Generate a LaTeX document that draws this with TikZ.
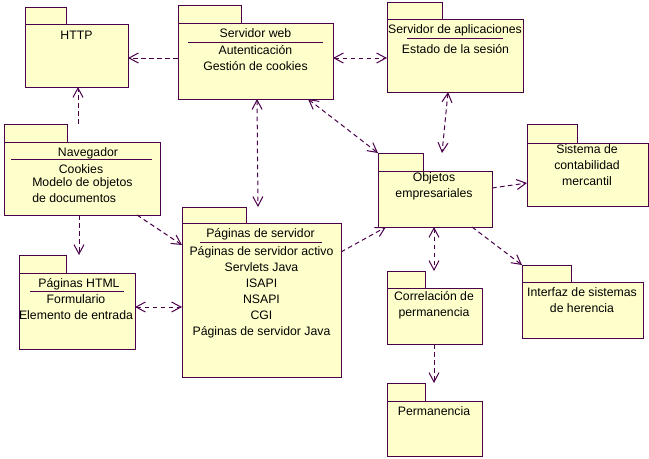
\documentclass[tikz,border=0pt]{standalone}
\usepackage{fontspec}
\setmainfont{Liberation Sans}
\usetikzlibrary{arrows.meta}
\definecolor{pkline}{RGB}{75,0,75}
\definecolor{pkfill}{RGB}{255,255,204}
\newcommand\pkgbox[7]{% name, x1, tabtop, tabright, bodytop, x2, y2
  \node[body,minimum width={(#6-#2)*0.75pt},minimum height={(#7-#5)*0.75pt}] (#1) at (#2,#5) {};
  \node[body,minimum width={(#4-#2)*0.75pt},minimum height={(#5-#3)*0.75pt}] (#1tab) at (#2,#3) {};
}
\begin{document}
\begin{tikzpicture}[x=0.75pt,y=-0.75pt,
  body/.style={draw=pkline,fill=pkfill,line width=0.75pt,inner sep=0pt,outer sep=0pt,anchor=north west},
  txt/.style={inner sep=0pt,anchor=north,align=center,font=\fontsize{9.2}{12}\selectfont,execute at begin node=\strut},
  txtl/.style={txt,anchor=north west,align=left},
  uline/.style={draw=pkline,line width=0.75pt},
  tip/.tip={Straight Barb[length=7pt,width=7.5pt,line width=0.75pt]},
  dep/.style={draw=pkline,line width=0.75pt,dash pattern=on 3.5pt off 2.5pt,-tip},
  bidep/.style={dep,tip-tip}]
\fill[white] (0,0) rectangle (649,458);
\useasboundingbox (0,0) rectangle (649,458);

% packages
\pkgbox{http}{25}{7}{66}{24}{128}{87}
\pkgbox{web}{178}{5}{241}{23}{333}{99}
\pkgbox{app}{387}{2}{442}{19}{523}{92}
\pkgbox{nav}{4}{124}{67}{142}{160}{215}
\pkgbox{html}{19}{255}{66}{273}{135}{349}
\pkgbox{pag}{182}{207}{246}{223}{341}{377}
\pkgbox{obj}{378}{153}{423}{171}{492}{227}
\pkgbox{sis}{527}{124}{577}{143}{648}{206}
\pkgbox{corr}{387}{271}{425}{288}{482}{344}
\pkgbox{int}{522}{265}{571}{282}{643}{338}
\pkgbox{perm}{387}{383}{425}{401}{482}{456}

% texts
\node[txt] (httpt) at (76.5,27.8) {HTTP};
\node[txt] (webt) at (255.5,25.8) {Servidor web};
\draw[uline] (188,42) -- (323,42);
\node[txt] (webc) at (255.5,44.8) {Autenticación\\Gestión de cookies};
\node[txt] (appt) at (455,21.8) {Servidor de aplicaciones};
\draw[uline] (407,38) -- (503,38);
\node[txt] (appc) at (455.5,41.8) {Estado de la sesión};
\node[txt] (navt) at (88,144.8) {Navegador};
\draw[uline] (11,159) -- (152,159);
\node[txt] (navc) at (81,161.8) {Cookies};
\node[txtl] (navd) at (32,177.8) {Modelo de objetos\\de documentos};
\node[txt] (htmlt) at (79,275.8) {Páginas HTML};
\draw[uline] (30,291) -- (124,291);
\node[txt] (htmlc) at (76,294.8) {Formulario\\Elemento de entrada};
\node[txt] (pagt) at (260.5,225.8) {Páginas de servidor};
\draw[uline] (200,242) -- (322,242);
\node[txt] (pagc) at (261.5,245.8) {Páginas de servidor activo\\Servlets Java\\ISAPI\\NSAPI\\CGI\\Páginas de servidor Java};
\node[txt] (objt) at (434,172.8) {Objetos\\empresariales};
\node[txt] (sist) at (587,144.8) {Sistema de\\contabilidad\\mercantil};
\node[txt] (corrt) at (434,290.8) {Correlación de\\permanencia};
\node[txt] (intt) at (582,287.8) {Interfaz de sistemas\\de herencia};
\node[txt] (permt) at (434,403.8) {Permanencia};

% connectors
\draw[dep] (web.west |- 0,58) -- (http.east |- 0,58);
\draw[bidep] (web.east |- 0,58) -- (app.west |- 0,58);
\draw[dep] (navtab.north -| 78,0) -- (http.south -| 78,0);
\draw[bidep] (web.south -| 257,0) -- (pagtab.north -| 258,0);
\draw[bidep] (web.south -| 308,0) -- (objtab.north west);
\draw[bidep] (app.south -| 448,0) -- (objtab.north -| 442,0);
\draw[dep] (nav.south -| 137,0) -- (pag.west |- 0,245);
\draw[dep] (nav.south -| 79,0) -- (htmltab.north -| 79,0);
\draw[bidep] (html.east |- 0,307) -- (pag.west |- 0,307);
\draw[dep] (pag.east |- 0,252) -- (obj.south -| 386,0);
\draw[dep] (obj.east |- 0,188) -- (sis.west |- 0,183);
\draw[bidep] (obj.south -| 434,0) -- (corrtab.north -| 434,0);
\draw[dep] (obj.south -| 472,0) -- (inttab.north west);
\draw[dep] (corr.south -| 434,0) -- (permtab.north -| 434,0);
\end{tikzpicture}
\end{document}
